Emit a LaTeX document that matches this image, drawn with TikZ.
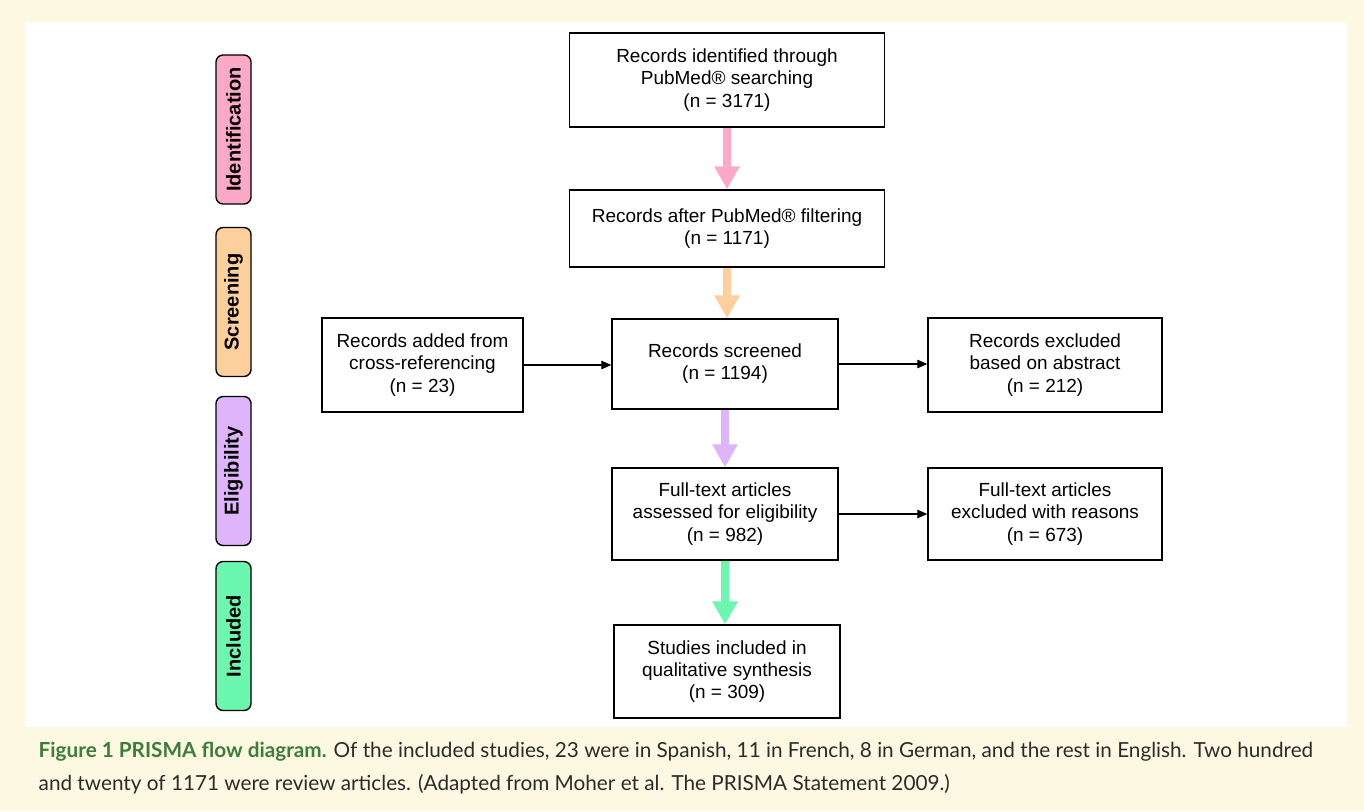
\documentclass[tikz,border=0pt]{standalone}
\usepackage{fontspec}
\setmainfont{Liberation Sans}
\newfontfamily\capfont{Lato}
\usepackage{xcolor}
\usetikzlibrary{arrows.meta, positioning}
\definecolor{idpink}{HTML}{FBA9C6}
\definecolor{scrorange}{HTML}{FDCF9C}
\definecolor{elpurple}{HTML}{DEB4FA}
\definecolor{incgreen}{HTML}{6BF7AE}
\definecolor{capgreen}{HTML}{3C7D3A}
\definecolor{cream}{HTML}{FDF8E1}
\definecolor{captext}{HTML}{2B2B2B}

\begin{document}
\begin{tikzpicture}[x=0.02cm, y=-0.02cm, thick,
    box/.style={draw, fill=white, align=center, font=\fontsize{10.8}{12.6}\selectfont, inner sep=2pt},
    stage/.style={draw, rounded corners=4pt, rotate=90, minimum width=2.98cm, minimum height=0.7cm, font=\bfseries\fontsize{11.4}{13}\selectfont},
    bigarrow/.style={line width=0.16cm, -{Triangle[width=0.48cm, length=0.46cm]}},
    smallarrow/.style={line width=0.6pt, -{Triangle[width=0.17cm, length=0.2cm]}}]
    % page and panel
    \fill[cream] (0,0) rectangle (1364,811);
    \fill[white] (25,22) rectangle (1347,727);
    \useasboundingbox (0,0) rectangle (1364,811);

    % stages
    \node[stage, fill=idpink] (sident) at (233.5,129.5) {Identification};
    \node[stage, fill=scrorange] (sscreen) at (233.5,302) {Screening};
    \node[stage, fill=elpurple] (selig) at (233.5,471) {Eligibility};
    \node[stage, fill=incgreen] (sincl) at (233.5,636) {Included};

    % flow boxes
    \node[box, minimum width=6.3cm, minimum height=1.88cm] (ident) at (727,80) {Records identified through\\PubMed\textregistered{} searching\\(n = 3171)};
    \node[box, minimum width=6.3cm, minimum height=1.54cm] (filt) at (727,228.5) {Records after PubMed\textregistered{} filtering\\(n = 1171)};
    \node[box, minimum width=4.52cm, minimum height=1.8cm] (screen) at (725,364) {Records screened\\(n = 1194)};
    \node[box, minimum width=4.02cm, minimum height=1.88cm] (added) at (422.5,365) {Records added from\\cross-referencing\\(n = 23)};
    \node[box, minimum width=4.68cm, minimum height=1.88cm] (exclabs) at (1045,365) {Records excluded\\based on abstract\\(n = 212)};
    \node[box, minimum width=4.52cm, minimum height=1.84cm] (fulltext) at (725,514) {Full-text articles\\assessed for eligibility\\(n = 982)};
    \node[box, minimum width=4.68cm, minimum height=1.84cm] (exclfull) at (1045,514) {Full-text articles\\excluded with reasons\\(n = 673)};
    \node[box, minimum width=4.52cm, minimum height=1.86cm] (incl) at (727,671.5) {Studies included in\\qualitative synthesis\\(n = 309)};

    % connectors
    \draw[bigarrow, idpink] (ident.south) -- (ident.south |- filt.north);
    \draw[bigarrow, scrorange] (filt.south) -- (filt.south |- screen.north);
    \draw[bigarrow, elpurple] (screen.south) -- (screen.south |- fulltext.north);
    \draw[bigarrow, incgreen] (fulltext.south) -- (fulltext.south |- incl.north);
    \draw[smallarrow] (added.east) -- (added.east -| screen.west);
    \draw[smallarrow] (screen.east) -- (screen.east -| exclabs.west);
    \draw[smallarrow] (fulltext.east) -- (fulltext.east -| exclfull.west);

    % caption
    \node[anchor=base west, inner sep=0, text=captext, font=\capfont\fontsize{11.8}{14}\selectfont] (capa) at (38,757) {\textcolor{capgreen}{\bfseries Figure 1 PRISMA flow diagram.} Of the included studies, 23 were in Spanish, 11 in French, 8 in German, and the rest in English. Two hundred};
    \node[anchor=base west, inner sep=0, text=captext, font=\capfont\fontsize{11.8}{14}\selectfont] (capb) at (38,790) {and twenty of 1171 were review articles. (Adapted from Moher et al. The PRISMA Statement 2009.)};
\end{tikzpicture}
\end{document}
